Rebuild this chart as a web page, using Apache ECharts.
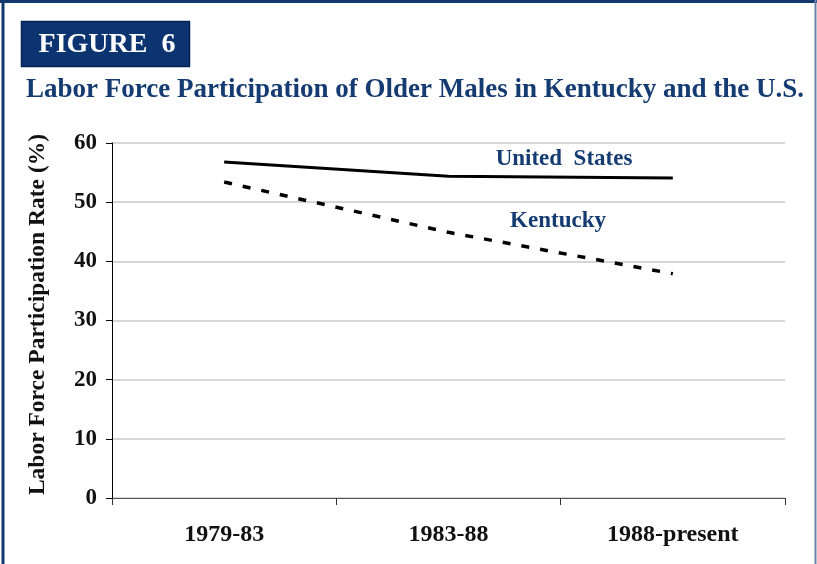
<!DOCTYPE html>
<html>
<head>
<meta charset="utf-8">
<script src="https://cdn.jsdelivr.net/npm/echarts@6/dist/echarts.min.js"></script>
<style>
  html, body { margin: 0; padding: 0; background: #fff; }
  #chart { width: 817px; height: 564px; }
</style>
</head>
<body>
<div id="chart"></div>
<script>
// Periods on the horizontal axis
const periods = ['1979-83', '1983-88', '1988-present'];
// Labor force participation rate of older males (%)
const unitedStates = [56.8, 54.4, 54.1];
const kentucky = [53.4, 44.9, 37.9];
// Value axis range
const yMin = 0, yMax = 60, yStep = 10;

const navy = '#143c72';
const serif = '"Liberation Serif", "DejaVu Serif", serif';

const chart = echarts.init(document.getElementById('chart'), null, { renderer: 'canvas' });

chart.setOption({
  backgroundColor: '#ffffff',
  animation: false,
  title: {
    text: 'Labor Force Participation of Older Males in Kentucky and the U.S.',
    left: 21,
    top: 72,
    textStyle: { fontFamily: serif, fontWeight: 'bold', fontSize: 27, color: navy }
  },
  grid: { left: 112, right: 32, top: 143, bottom: 66 },
  xAxis: {
    type: 'category',
    data: periods,
    boundaryGap: true,
    axisLine: { lineStyle: { color: '#555', width: 1 } },
    axisTick: { show: true, length: 7, lineStyle: { color: '#333' } },
    axisLabel: { margin: 25, fontFamily: serif, fontWeight: 'bold', fontSize: 24, color: '#111' }
  },
  yAxis: {
    type: 'value',
    min: yMin, max: yMax, interval: yStep,
    name: 'Labor Force Participation Rate (%)',
    nameLocation: 'middle',
    nameGap: 62,
    nameTextStyle: { fontFamily: serif, fontWeight: 'bold', fontSize: 23.5, color: '#111', padding: [0, 0, 0, 12] },
    axisLine: { show: true, lineStyle: { color: '#000', width: 1 } },
    axisTick: { show: true, length: 6, lineStyle: { color: '#000' } },
    axisLabel: { margin: 15, fontFamily: serif, fontWeight: 'bold', fontSize: 23, color: '#111' },
    splitLine: { lineStyle: { color: '#c8c8c8', width: 1.5 } }
  },
  series: [
    {
      name: 'United States',
      type: 'line',
      data: unitedStates,
      symbol: 'none',
      lineStyle: { color: '#000', width: 3 }
    },
    {
      name: 'Kentucky',
      type: 'line',
      data: kentucky,
      symbol: 'none',
      lineStyle: { color: '#000', width: 3.5, type: [8, 11] }
    }
  ],
  graphic: [
    // page frame
    { type: 'line', shape: { x1: 3, y1: 0, x2: 3, y2: 564 }, style: { stroke: '#123a6e', lineWidth: 3 } },
    { type: 'line', shape: { x1: 0, y1: 1.5, x2: 817, y2: 1.5 }, style: { stroke: '#123a6e', lineWidth: 3 } },
    { type: 'line', shape: { x1: 815.5, y1: 0, x2: 815.5, y2: 564 }, style: { stroke: '#6a85a8', lineWidth: 2 } },
    // figure badge
    { type: 'rect', shape: { x: 21.5, y: 21.5, width: 168, height: 45 }, style: { fill: '#0c3470', stroke: '#061f52', lineWidth: 1.5 } },
    { type: 'text', x: 107, y: 45, style: {
        text: 'FIGURE  6', fill: '#ffffff', align: 'center', verticalAlign: 'middle',
        font: 'bold 28px ' + serif } },
    // series labels
    { type: 'text', x: 564, y: 159, style: {
        text: 'United  States', fill: navy, align: 'center', verticalAlign: 'middle',
        font: 'bold 23px ' + serif } },
    { type: 'text', x: 558, y: 221, style: {
        text: 'Kentucky', fill: navy, align: 'center', verticalAlign: 'middle',
        font: 'bold 23px ' + serif } }
  ]
});
</script>
</body>
</html>
